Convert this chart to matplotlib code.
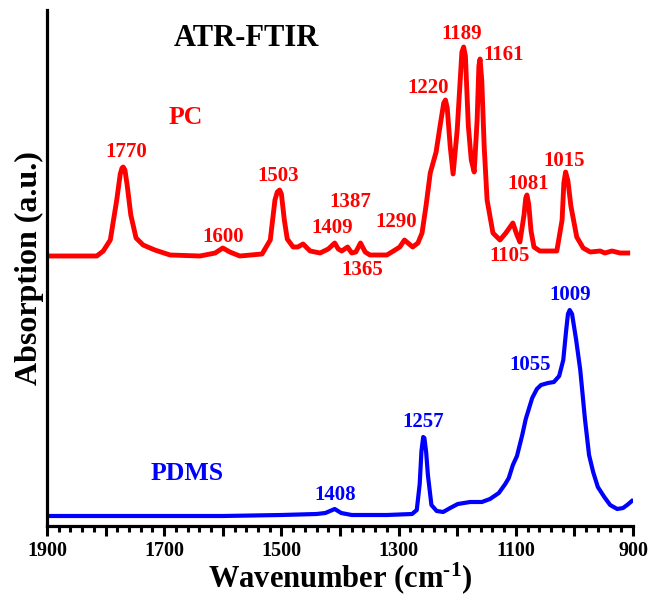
import matplotlib
matplotlib.use("Agg")
import matplotlib.pyplot as plt
from matplotlib.ticker import MultipleLocator

plt.rcParams["font.family"] = "Liberation Serif"
plt.rcParams["font.weight"] = "bold"
plt.rcParams["mathtext.fontset"] = "custom"
plt.rcParams["mathtext.rm"] = "Liberation Serif:bold"
plt.rcParams["mathtext.default"] = "rm"

# PC spectrum (wavenumber, absorption in a.u.)
pc_wn = [1900, 1815, 1804, 1792, 1781, 1775, 1772, 1770, 1767, 1763, 1757, 1748,
         1736, 1716, 1690, 1639, 1613, 1600, 1588, 1571, 1533, 1519, 1511, 1507,
         1503, 1500, 1495, 1490, 1480, 1472, 1463, 1451, 1434, 1420, 1409, 1403,
         1397, 1387, 1380, 1373, 1365, 1357, 1349, 1320, 1306, 1298, 1290, 1284,
         1276, 1267, 1260, 1253, 1246, 1236, 1229, 1223, 1220, 1217, 1212, 1207,
         1200, 1192, 1189, 1186, 1181, 1176, 1171, 1166, 1163, 1161, 1158, 1154,
         1149, 1139, 1127, 1117, 1105, 1098, 1093, 1086, 1083, 1081, 1078, 1074,
         1069, 1059, 1030, 1021, 1018, 1015, 1011, 1006, 996, 985, 973, 956, 948,
         936, 922, 909]
pc_abs = [270, 270, 275, 286, 326, 352, 358, 359, 356, 340, 311, 288,
          281, 276, 271, 270, 273, 278, 274, 270, 272, 286, 326, 334,
          336, 332, 306, 287, 279, 279, 282, 275, 273, 277, 283, 277,
          275, 279, 273, 274, 283, 274, 271, 271, 276, 279, 286, 283,
          279, 283, 293, 321, 353, 374, 401, 423, 426, 418, 380, 352,
          396, 474, 479, 470, 400, 366, 354, 406, 460, 467, 445, 380,
          326, 293, 286, 293, 303, 291, 284, 311, 328, 331, 322, 295,
          279, 275, 275, 306, 343, 354, 345, 320, 289, 278, 274, 275, 273,
          275, 273, 273]

# PDMS spectrum
pdms_wn = [1900, 1800, 1700, 1600, 1500, 1440, 1425, 1409, 1398, 1380, 1320, 1277,
           1269, 1264, 1261, 1258, 1256, 1253, 1250, 1244, 1235, 1224, 1212, 1199,
           1178, 1158, 1144, 1129, 1118, 1112, 1105, 1098, 1089, 1083, 1072, 1064,
           1057, 1045, 1035, 1026, 1019, 1014, 1011, 1008, 1004, 997, 990, 982,
           975, 968, 960, 949, 939, 927, 917, 910, 902]
pdms_abs = [10, 10, 10, 10, 11, 12, 13, 17, 13, 11, 11, 12,
            16, 42, 75, 89, 88, 74, 51, 21, 15, 14, 18, 22,
            24, 24, 27, 33, 42, 48, 61, 70, 91, 107, 128, 137,
            141, 143, 144, 150, 166, 196, 212, 216, 212, 186, 156, 107,
            71, 54, 39, 29, 21, 17, 18, 21, 25]

# peak annotations: text, x, y
pc_labels = ["1770", "1600", "1503", "1409", "1387", "1365", "1290", "1220",
             "1189", "1161", "1105", "1081", "1015"]
pc_label_x = [1765, 1600, 1506, 1414, 1383, 1362, 1304, 1250, 1192, 1120, 1110, 1079, 1018]
pc_label_y = [374, 289, 350, 298, 324, 256, 304, 438, 492, 471, 270, 342, 365]

pdms_labels = ["1408", "1257", "1055", "1009"]
pdms_label_x = [1409, 1258, 1076, 1008]
pdms_label_y = [31, 104, 161, 231]

fig = plt.figure(figsize=(6.5, 5.96), dpi=100)
ax = fig.add_axes([47 / 650, 70 / 596, 586 / 650, 516 / 596])

ax.plot(pc_wn, pc_abs, color="#ff0000", lw=3.5, solid_joinstyle="round")
ax.plot(pdms_wn, pdms_abs, color="#0000ff", lw=3.0, solid_joinstyle="round")

for t, x, y in zip(pc_labels, pc_label_x, pc_label_y):
    ax.text(x, y, t, color="#ff0000", fontsize=15, fontweight="bold",
            ha="center", va="center")
for t, x, y in zip(pdms_labels, pdms_label_x, pdms_label_y):
    ax.text(x, y, t, color="#0000ff", fontsize=15, fontweight="bold",
            ha="center", va="center")

ax.text(1663, 409, "PC", color="#ff0000", fontsize=18.5, fontweight="bold",
        ha="center", va="center")
ax.text(1661, 53, "PDMS", color="#0000ff", fontsize=18.5, fontweight="bold",
        ha="center", va="center")
ax.text(1560, 488, "ATR-FTIR", color="black", fontsize=22, fontweight="bold",
        ha="center", va="center")

ax.set_xlim(1900, 900)
ax.set_ylim(0, 516)

ax.spines["top"].set_visible(False)
ax.spines["right"].set_visible(False)
ax.spines["left"].set_linewidth(2.3)
ax.spines["bottom"].set_linewidth(2.3)

ax.xaxis.set_minor_locator(MultipleLocator(20))
ax.set_xticks([1900, 1800, 1700, 1600, 1500, 1400, 1300, 1200, 1100, 1000, 900])
ax.set_xticklabels(["1900", "", "1700", "", "1500", "", "1300", "", "1100", "", "900"])
ax.tick_params(axis="x", which="major", direction="out", length=7.5, width=2.2,
               labelsize=14.5, pad=3)
ax.tick_params(axis="x", which="minor", direction="out", length=4.5, width=2.2)
ax.set_yticks([])

ax.set_xlabel(r"Wavenumber (cm$^{\text{-1}}$)", fontsize=22, fontweight="bold",
              labelpad=0)
ax.set_ylabel("Absorption (a.u.)", fontsize=23, fontweight="bold", labelpad=2)

fig.savefig("out.png", dpi=100)
